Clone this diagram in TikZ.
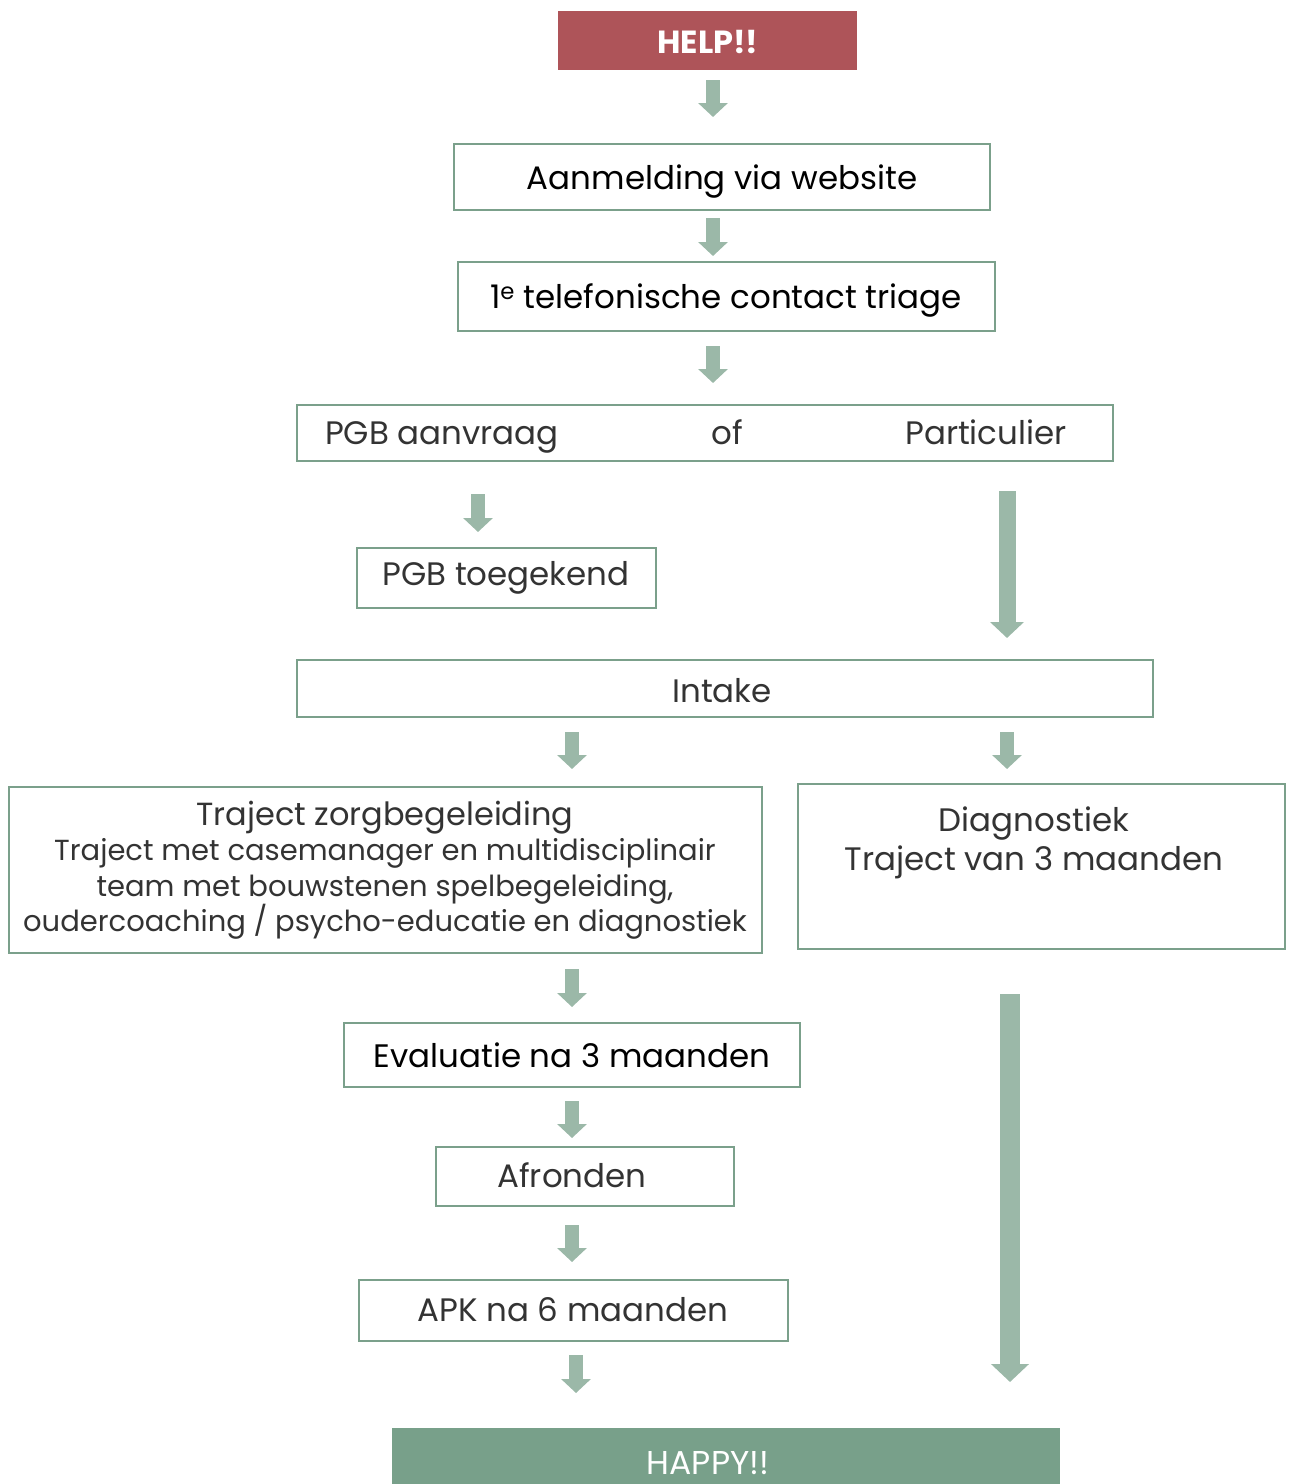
\documentclass[tikz,border=0pt]{standalone}
\usepackage{fontspec}
\setmainfont{Poppins}
\usetikzlibrary{arrows.meta}
\definecolor{bordergreen}{HTML}{7BA08B}
\definecolor{arrowgreen}{HTML}{9BB8A8}
\definecolor{helpred}{HTML}{AE5459}
\definecolor{happygreen}{HTML}{78A08A}
\definecolor{txtgray}{HTML}{333333}
\begin{document}
\begin{tikzpicture}[x=1pt,y=-1pt,
  box/.style={draw=bordergreen,line width=2.4pt},
  flowarrow/.style={arrowgreen,line width=14pt,-{Triangle[width=29pt,length=14pt]}},
  longarrow/.style={arrowgreen,line width=17pt,-{Triangle[width=33pt,length=16pt]}},
  biglongarrow/.style={arrowgreen,line width=20pt,-{Triangle[width=37pt,length=18pt]}},
  lbl/.style={inner sep=0pt,text=txtgray,font=\fontsize{32.5}{38}\selectfont,anchor=center,text height=23pt,text depth=0pt},
  mlbl/.style={inner sep=0pt,text=txtgray,align=center,anchor=center}
]
\useasboundingbox (0,0) rectangle (1289,1484);
% boxes
\path[fill=helpred] (558,11) rectangle (857,70);
\node[lbl,text=white,font=\fontsize{32}{38}\selectfont\bfseries] (help) at (708,42) {HELP!!};
\draw[box] (454,144) rectangle (990,210);
\node[lbl,text=black] (aanm) at (722,178) {Aanmelding via website};
\draw[box] (458,262) rectangle (995,331);
\node[lbl,text=black] (tel) at (726,297) {1\textsuperscript{e} telefonische contact triage};
\draw[box] (297,405) rectangle (1113,461);
\node[lbl] (pgb) at (442,433) {PGB aanvraag};
\node[lbl] (of) at (727,433) {of};
\node[lbl] (part) at (986,433) {Particulier};
\draw[box] (357,548) rectangle (656,608);
\node[lbl] (toeg) at (506,574) {PGB toegekend};
\draw[box] (297,660) rectangle (1153,717);
\node[lbl] (intake) at (722,691) {Intake};
\draw[box] (9,787) rectangle (762,953);
\node[mlbl,font=\fontsize{29}{35.5}\selectfont] (traject) at (385,870) {{\fontsize{32}{35.5}\selectfont Traject zorgbegeleiding}\\Traject met casemanager en multidisciplinair\\team met bouwstenen spelbegeleiding,\\oudercoaching / psycho-educatie en diagnostiek};
\draw[box] (798,784) rectangle (1285,949);
\node[mlbl,font=\fontsize{32.5}{39}\selectfont] (diag) at (1034,843) {Diagnostiek\\Traject van 3 maanden};
\draw[box] (344,1023) rectangle (800,1087);
\node[lbl,text=black] (eval) at (572,1056) {Evaluatie na 3 maanden};
\draw[box] (436,1147) rectangle (734,1206);
\node[lbl] (afr) at (572,1176) {Afronden};
\draw[box] (359,1280) rectangle (788,1341);
\node[lbl] (apk) at (573,1310) {APK na 6 maanden};
\path[fill=happygreen] (392,1428) rectangle (1060,1490);
\node[lbl,text=white,font=\fontsize{33}{38}\selectfont] (happy) at (708,1463) {HAPPY!!};
% arrows
\coordinate (a1s) at (713,80);   \coordinate (a1e) at (713,117);
\coordinate (a2s) at (713,218);  \coordinate (a2e) at (713,256);
\coordinate (a3s) at (713,346);  \coordinate (a3e) at (713,383);
\coordinate (a4s) at (478,494);  \coordinate (a4e) at (478,532);
\coordinate (a5s) at (1007,491); \coordinate (a5e) at (1007,638);
\coordinate (a6s) at (572,732);  \coordinate (a6e) at (572,769);
\coordinate (a7s) at (1007,732); \coordinate (a7e) at (1007,769);
\coordinate (a8s) at (572,969);  \coordinate (a8e) at (572,1007);
\coordinate (a9s) at (1010,994); \coordinate (a9e) at (1010,1382);
\coordinate (a10s) at (572,1101); \coordinate (a10e) at (572,1138);
\coordinate (a11s) at (572,1225); \coordinate (a11e) at (572,1262);
\coordinate (a12s) at (576,1355); \coordinate (a12e) at (576,1393);
\foreach \n in {1,2,3,4,6,7,8,10,11,12}{\draw[flowarrow] (a\n s) -- (a\n e);}
\draw[longarrow] (a5s) -- (a5e);
\draw[biglongarrow] (a9s) -- (a9e);
\end{tikzpicture}
\end{document}
